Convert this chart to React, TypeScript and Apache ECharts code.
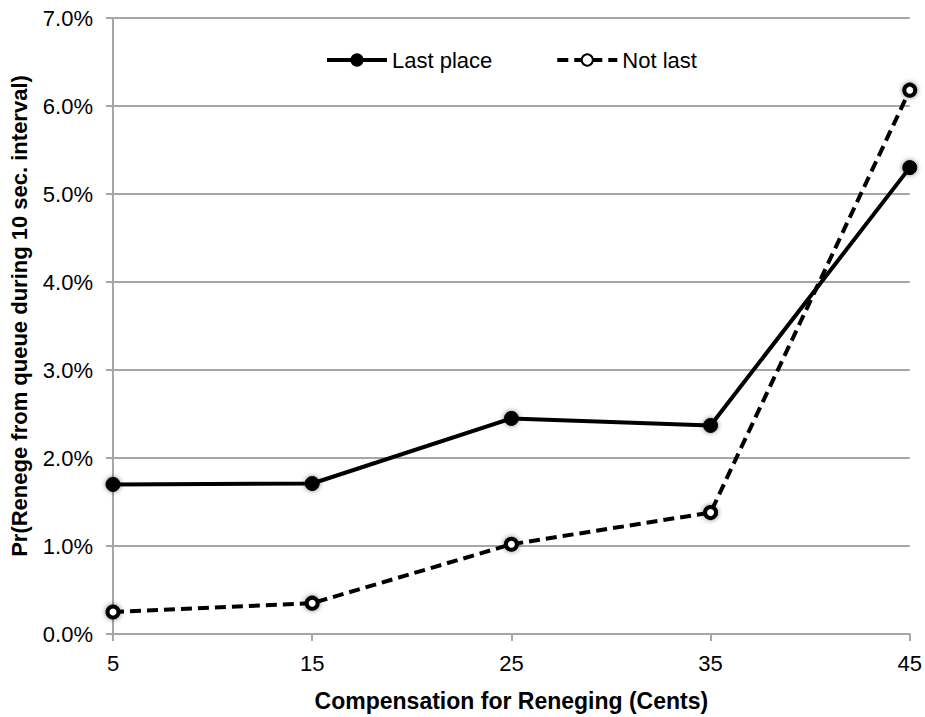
import React, { useEffect, useRef } from "react";
import * as echarts from "echarts";

const categories = ["5", "15", "25", "35", "45"];
const lastPlace = [0.017, 0.0171, 0.0245, 0.0237, 0.053];
const notLast = [0.0025, 0.0035, 0.0102, 0.0138, 0.0618];
const yTicks = { min: 0, max: 0.07, interval: 0.01 };

export default function App() {
  const ref = useRef<HTMLDivElement>(null);
  useEffect(() => {
    const chart = echarts.init(ref.current!, null, { renderer: "svg" });
    const font = "'Liberation Sans', Arial, Helvetica, sans-serif";
    chart.setOption({
      animation: false,
      backgroundColor: "#ffffff",
      textStyle: { fontFamily: font },
      grid: { left: 112, right: 15, top: 18, bottom: 80 },
      legend: {
        top: 44,
        left: 320,
        itemWidth: 60,
        itemHeight: 14,
        itemGap: 63,
        lineStyle: { width: 4 },
        textStyle: { fontSize: 22, color: "#000", fontFamily: font },
        data: ["Last place", "Not last"],
      },
      xAxis: {
        type: "category",
        data: categories,
        boundaryGap: false,
        name: "Compensation for Reneging (Cents)",
        nameLocation: "middle",
        nameGap: 55,
        nameTextStyle: { fontSize: 23, fontWeight: "bold", color: "#000", fontFamily: font },
        axisLine: { lineStyle: { color: "#a6a6a6", width: 2 } },
        axisTick: { show: true, length: 7, lineStyle: { color: "#a6a6a6", width: 2 }, alignWithLabel: true },
        axisLabel: { fontSize: 22, color: "#000", margin: 18, fontFamily: font },
        splitLine: { show: false },
      },
      yAxis: {
        type: "value",
        min: yTicks.min,
        max: yTicks.max,
        interval: yTicks.interval,
        name: "Pr(Renege from queue during 10 sec. interval)",
        nameLocation: "middle",
        nameGap: 83,
        nameTextStyle: {
          fontSize: 22,
          fontWeight: "bold",
          color: "#000",
          fontFamily: font,
          padding: [0, 0, 0, 20],
        },
        axisLine: { show: true, lineStyle: { color: "#a6a6a6", width: 2 } },
        axisTick: { show: true, length: 7, lineStyle: { color: "#a6a6a6", width: 2 } },
        axisLabel: {
          fontSize: 22,
          color: "#000",
          margin: 20,
          fontFamily: font,
          formatter: (v: number) => (v * 100).toFixed(1) + "%",
        },
        splitLine: { show: true, lineStyle: { color: "#a6a6a6", width: 2 } },
      },
      series: [
        {
          name: "Last place",
          type: "line",
          data: lastPlace,
          symbol: "circle",
          symbolSize: 14,
          lineStyle: { color: "#000", width: 4 },
          itemStyle: {
            color: "#000",
            borderColor: "#000",
            borderWidth: 1,
            shadowBlur: 5,
            shadowColor: "rgba(0,0,0,0.5)",
          },
          z: 3,
        },
        {
          name: "Not last",
          type: "line",
          data: notLast,
          symbol: "circle",
          symbolSize: 11,
          lineStyle: { color: "#000", width: 4, type: [11, 6] },
          itemStyle: {
            color: "#fff",
            borderColor: "#000",
            borderWidth: 4,
            shadowBlur: 5,
            shadowColor: "rgba(0,0,0,0.5)",
          },
          z: 2,
        },
      ],
    });
    return () => chart.dispose();
  }, []);
  return (
    <div
      ref={ref}
      style={{ position: "absolute", left: 0, top: 0, width: 925, height: 717 }}
    />
  );
}
